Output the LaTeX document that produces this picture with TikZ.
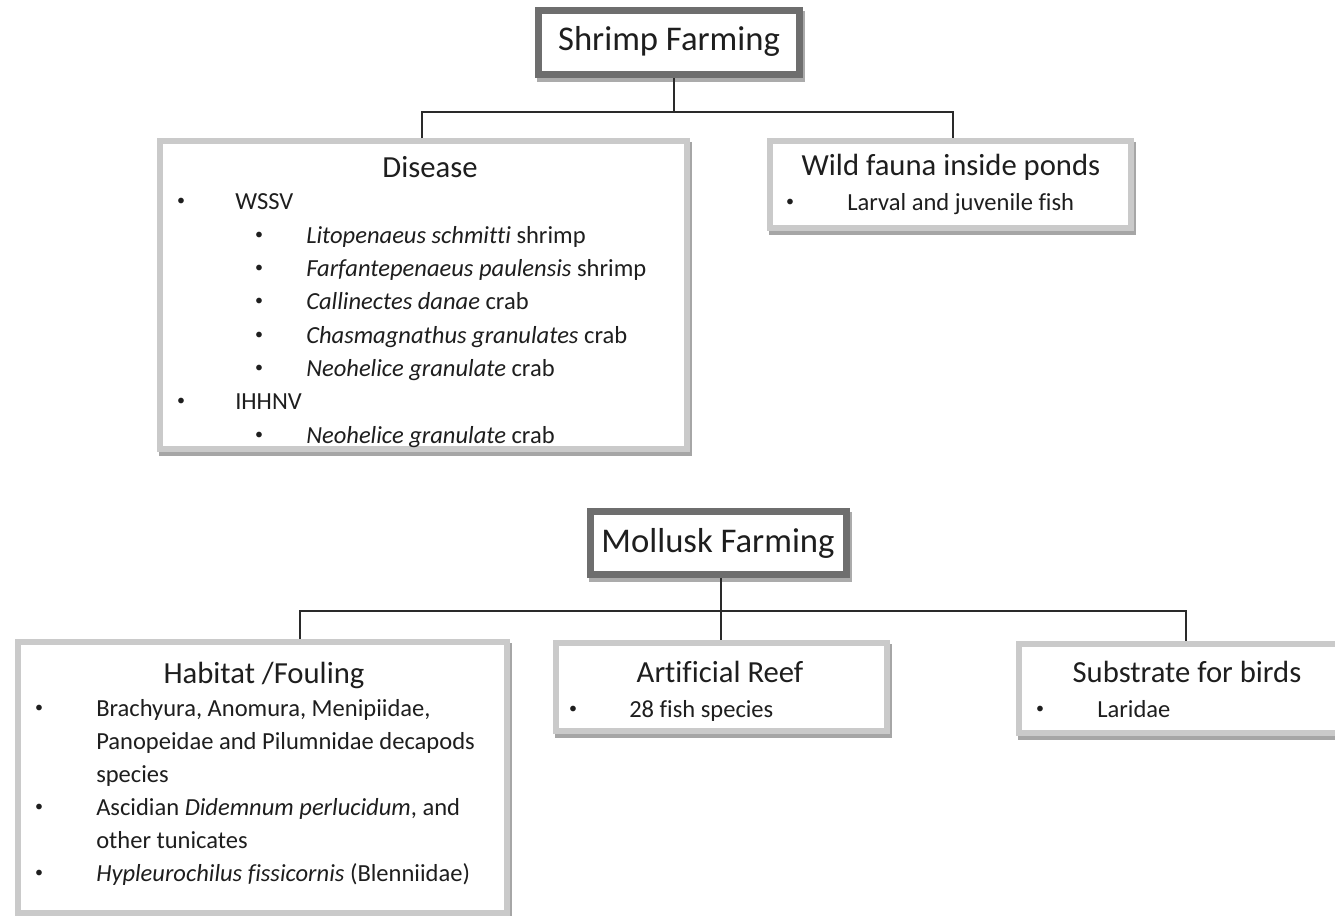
\documentclass[tikz,border=0pt]{standalone}
\usepackage{fontspec}
\setmainfont{Carlito}[Ligatures=NoCommon]
\usetikzlibrary{backgrounds}
\definecolor{topframe}{HTML}{6E6E6E}
\definecolor{topshade}{HTML}{ABABAB}
\definecolor{subframe}{HTML}{CACACA}
\definecolor{subshade}{HTML}{A6A6A6}
\definecolor{ink}{HTML}{1E1E1E}
\definecolor{wire}{HTML}{2A2A2A}

\begin{document}
\begin{tikzpicture}[x=0.75pt,y=-0.75pt,
  topbox/.style 2 args={draw=topframe, line width=5.25pt, fill=white,
    minimum width={#1*0.75pt}, minimum height={#2*0.75pt}, inner sep=0pt},
  subbox/.style 2 args={draw=subframe, line width=4.5pt, fill=white,
    minimum width={#1*0.75pt}, minimum height={#2*0.75pt}, inner sep=0pt},
  toptitle/.style={font=\fontsize{26}{30}\selectfont, text=ink, anchor=base, inner sep=0pt},
  boxtitle/.style={font=\fontsize{23}{27}\selectfont, text=ink, anchor=base, inner sep=0pt},
  entry/.style={font=\fontsize{18.4}{22}\selectfont, text=ink, anchor=base west, inner sep=0pt},
  dot/.style={font=\fontsize{12}{14}\selectfont, text=ink, anchor=center, inner sep=0pt},
  conn/.style={draw=wire, line width=1.1pt}
]
\useasboundingbox (0,0) rectangle (1335,915);

% ---------- boxes ----------
\node[topbox={261}{64}] (shrimp)  at (669,42.5) {};
\node[subbox={527}{308}] (disease) at (423.5,295) {};
\node[subbox={361}{87}]  (wild)    at (950.5,184.5) {};

\node[topbox={256}{63}] (mollusk) at (718.5,543) {};
\node[subbox={489}{271}] (habitat) at (262.5,777.5) {};
\node[subbox={331}{88}]  (reef)    at (721.5,687) {};
\node[subbox={331}{89}]  (birds)   at (1184.5,688.5) {};

% ---------- shadows ----------
\begin{scope}[on background layer]
  \foreach \b in {shrimp,mollusk}
    \fill[topshade] ([shift={(1.5,4)}]\b.north west) rectangle ([shift={(1.5,4)}]\b.south east);
  \foreach \b in {disease,wild,habitat,reef,birds}
    \fill[subshade] ([shift={(1.5,3.5)}]\b.north west) rectangle ([shift={(1.5,3.5)}]\b.south east);
\end{scope}

% ---------- connectors ----------
\coordinate (sj) at (674,112);
\coordinate (sl) at (422,112);
\coordinate (sr) at (953,112);
\draw[conn] (shrimp.south -| sj) -- (sj);
\draw[conn] (disease.north -| sl) -- (sl) -- (sr) -- (wild.north -| sr);

\coordinate (mj) at (721,611);
\coordinate (ml) at (300,611);
\coordinate (mr) at (1186,611);
\draw[conn] (mollusk.south -| mj) -- (mj);
\draw[conn] (habitat.north -| ml) -- (ml) -- (mr) -- (birds.north -| mr);
\draw[conn] (mj) -- (reef.north -| mj);

% ---------- titles ----------
\node[toptitle] (shrimpT)  at (669,50)  {Shrimp Farming};
\node[toptitle] (molluskT) at (718,552) {Mollusk Farming};
\node[boxtitle] (diseaseT) at (430,177) {Disease};
\node[boxtitle] (wildT)    at (951,175) {Wild fauna inside ponds};
\node[boxtitle] (habitatT) at (264,683) {Habitat /Fouling};
\node[boxtitle] (reefT)    at (720,682) {Artificial Reef};
\node[boxtitle] (birdsT)   at (1187,682) {Substrate for birds};

% ---------- disease list (bullets sit 7px above the baseline) ----------
\node[dot]   (d1b) at (181,202) {•};
\node[entry] (d1)  at (235,209) {WSSV};
\node[dot]   (d2b) at (259,236) {•};
\node[entry] (d2)  at (306,243) {\textit{Litopenaeus schmitti} shrimp};
\node[dot]   (d3b) at (259,269) {•};
\node[entry] (d3)  at (306,276) {\textit{Farfantepenaeus paulensis} shrimp};
\node[dot]   (d4b) at (259,302) {•};
\node[entry] (d4)  at (306,309) {\textit{Callinectes danae} crab};
\node[dot]   (d5b) at (259,336) {•};
\node[entry] (d5)  at (306,343) {\textit{Chasmagnathus granulates} crab};
\node[dot]   (d6b) at (259,369) {•};
\node[entry] (d6)  at (306,376) {\textit{Neohelice granulate} crab};
\node[dot]   (d7b) at (181,402) {•};
\node[entry] (d7)  at (235,409) {IHHNV};
\node[dot]   (d8b) at (259,436) {•};
\node[entry] (d8)  at (306,443) {\textit{Neohelice granulate} crab};

% ---------- wild fauna list ----------
\node[dot]   (w1b) at (790,203) {•};
\node[entry] (w1)  at (847,210) {Larval and juvenile fish};

% ---------- habitat list ----------
\node[dot]   (h1b) at (39,709) {•};
\node[entry] (h1)  at (96,716) {Brachyura, Anomura,  Menipiidae,};
\node[entry] (h2)  at (96,749) {Panopeidae and Pilumnidae decapods};
\node[entry] (h3)  at (96,782) {species};
\node[dot]   (h4b) at (39,808) {•};
\node[entry] (h4)  at (96,815) {Ascidian \textit{Didemnum perlucidum}, and};
\node[entry] (h5)  at (96,848) {other tunicates};
\node[dot]   (h6b) at (39,874) {•};
\node[entry] (h6)  at (96,881) {\textit{Hypleurochilus fissicornis} (Blenniidae)};

% ---------- reef and birds lists ----------
\node[dot]   (r1b) at (573,710) {•};
\node[entry] (r1)  at (629,717) {28 fish species};
\node[dot]   (b1b) at (1040,710) {•};
\node[entry] (b1)  at (1097,717) {Laridae};
\end{tikzpicture}
\end{document}
